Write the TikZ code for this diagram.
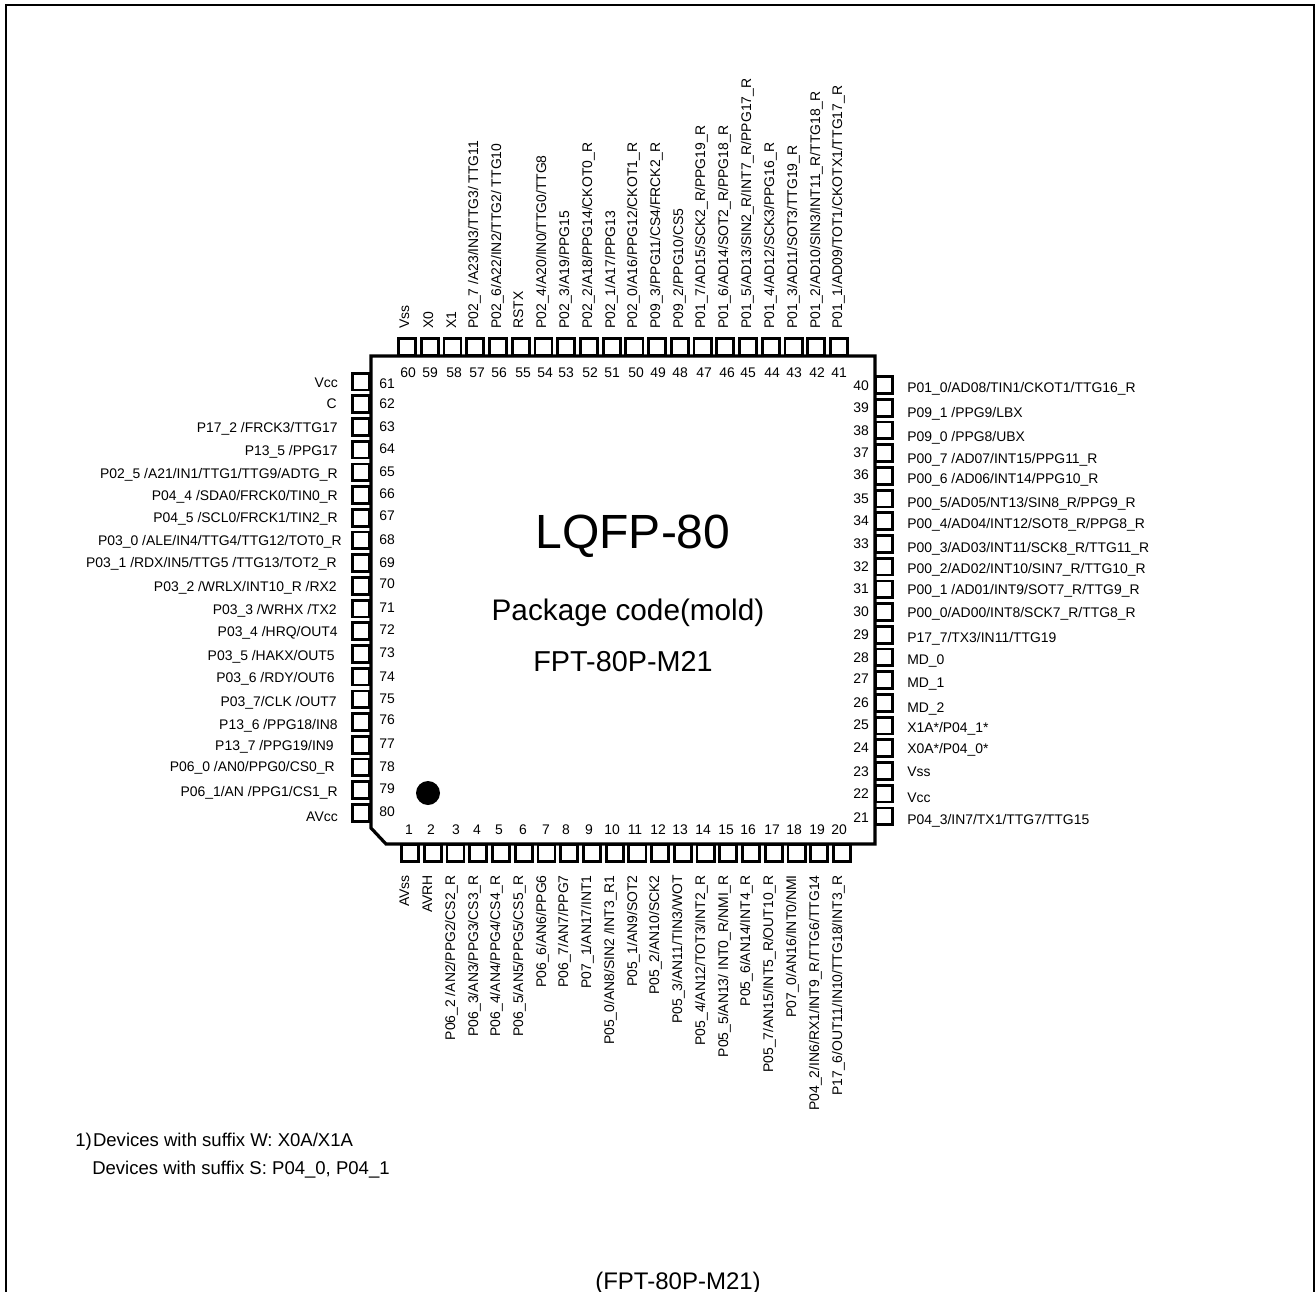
\documentclass[tikz,border=0pt]{standalone}
\usepackage{fontspec}
\setmainfont{Liberation Sans}
\tikzset{
	pinbox/.style={draw,rectangle,line width=2.1pt,minimum width=12.8pt,minimum height=12.6pt,inner sep=0,outer sep=0},
	pinnum/.style={inner sep=0,text height=7.5pt,text depth=0pt,font=\fontsize{10.45}{12}\selectfont},
	pinlab/.style={pinnum},
	toplab/.style={pinnum,rotate=90,anchor=west},
	botlab/.style={pinnum,rotate=90,anchor=east}
}
\begin{document}
\begin{tikzpicture}[x=0.75pt,y=-0.75pt]
	\useasboundingbox (0,0) rectangle (1315,1292);
	\draw[line width=1.4pt] (6,1292) -- (6,5) -- (1314,5) -- (1314,1292);
	\foreach \n/\nx/\lx/\txt in {60/408/404/{Vss},59/430/428/{X0},58/454/451/{X1},57/477/473/{P02\_7 /A23/IN3/TTG3/ TTG11},56/499/496/{P02\_6/A22/IN2/TTG2/ TTG10},55/523/518/{RSTX},54/545/541/{P02\_4/A20/IN0/TTG0/TTG8},53/566/564/{P02\_3/A19/PPG15},52/590/587/{P02\_2/A18/PPG14/CKOT0\_R},51/612/610/{P02\_1/A17/PPG13},50/636/632/{P02\_0/A16/PPG12/CKOT1\_R},49/658/655/{P09\_3/PPG11/CS4/FRCK2\_R},48/680/678/{P09\_2/PPG10/CS5},47/704/700/{P01\_7/AD15/SCK2\_R/PPG19\_R},46/727/723/{P01\_6/AD14/SOT2\_R/PPG18\_R},45/748/746/{P01\_5/AD13/SIN2\_R/INT7\_R/PPG17\_R},44/772/769/{P01\_4/AD12/SCK3/PPG16\_R},43/794/792/{P01\_3/AD11/SOT3/TTG19\_R},42/817/815/{P01\_2/AD10/SIN3/INT11\_R/TTG18\_R},41/839/837/{P01\_1/AD09/TOT1/CKOTX1/TTG17\_R}}{
		\pgfmathsetmacro\px{407+22.74*(60-\n)}
		\node[pinbox] (pin\n) at (\px,347) {};
		\node[pinnum] (num\n) at (\nx,372) {\n};
		\node[toplab] (lab\n) at (\lx,329) {\txt};
	}
	\foreach \n/\nx/\lx/\txt in {1/409/404/{AVss},2/431/427/{AVRH},3/456/450/{P06\_2 /AN2/PPG2/CS2\_R},4/477/473/{P06\_3/AN3/PPG3/CS3\_R},5/499/495/{P06\_4/AN4/PPG4/CS4\_R},6/523/518/{P06\_5/AN5/PPG5/CS5\_R},7/546/541/{P06\_6/AN6/PPG6},8/566/563/{P06\_7/AN7/PPG7},9/589/586/{P07\_1/AN17/INT1},10/612/609/{P05\_0/AN8/SIN2 /INT3\_R1},11/635/632/{P05\_1/AN9/SOT2},12/658/654/{P05\_2/AN10/SCK2},13/680/677/{P05\_3/AN11/TIN3/WOT},14/703/700/{P05\_4/AN12/TOT3/INT2\_R},15/726/723/{P05\_5/AN13/ INT0\_R/NMI\_R},16/748/745/{P05\_6/AN14/INT4\_R},17/772/768/{P05\_7/AN15/INT5\_R/OUT10\_R},18/794/791/{P07\_0/AN16/INT0/NMI},19/817/814/{P04\_2/IN6/RX1/INT9\_R/TTG6/TTG14},20/839/837/{P17\_6/OUT11/IN10/TTG18/INT3\_R}}{
		\pgfmathsetmacro\px{410+22.74*(\n-1)}
		\node[pinbox] (pin\n) at (\px,853) {};
		\node[pinnum] (num\n) at (\nx,829) {\n};
		\node[botlab] (lab\n) at (\lx,875) {\txt};
	}
	\foreach \n/\ny/\lx/\ly/\txt in {61/383/338/382/{Vcc},62/403/337/403/{C},63/426/338/427/{P17\_2 /FRCK3/TTG17},64/448/338/450/{P13\_5 /PPG17},65/471/338/473/{P02\_5 /A21/IN1/TTG1/TTG9/ADTG\_R},66/493/338/495/{P04\_4 /SDA0/FRCK0/TIN0\_R},67/515/338/517/{P04\_5 /SCL0/FRCK1/TIN2\_R},68/539/342/540/{P03\_0 /ALE/IN4/TTG4/TTG12/TOT0\_R},69/562/337/562/{P03\_1 /RDX/IN5/TTG5 /TTG13/TOT2\_R},70/583/337/586/{P03\_2 /WRLX/INT10\_R /RX2},71/607/337/609/{P03\_3 /WRHX /TX2},72/629/338/631/{P03\_4 /HRQ/OUT4},73/652/335/655/{P03\_5 /HAKX/OUT5},74/676/335/677/{P03\_6 /RDY/OUT6},75/698/337/701/{P03\_7/CLK /OUT7},76/719/338/724/{P13\_6 /PPG18/IN8},77/743/334/745/{P13\_7 /PPG19/IN9},78/766/335/766/{P06\_0 /AN0/PPG0/CS0\_R},79/788/338/791/{P06\_1/AN /PPG1/CS1\_R},80/811/338/816/{AVcc}}{
		\pgfmathsetmacro\py{381.5+22.7*(\n-61)}
		\node[pinbox] (pin\n) at (361,\py) {};
		\node[pinnum] (num\n) at (387,\ny) {\n};
		\node[pinlab,anchor=east] (lab\n) at (\lx,\ly) {\txt};
	}
	\foreach \n/\ny/\ly/\txt in {40/385/387/{P01\_0/AD08/TIN1/CKOT1/TTG16\_R},39/407/412/{P09\_1 /PPG9/LBX},38/430/436/{P09\_0 /PPG8/UBX},37/452/458/{P00\_7 /AD07/INT15/PPG11\_R},36/474/478/{P00\_6 /AD06/INT14/PPG10\_R},35/498/502/{P00\_5/AD05/NT13/SIN8\_R/PPG9\_R},34/520/523/{P00\_4/AD04/INT12/SOT8\_R/PPG8\_R},33/543/547/{P00\_3/AD03/INT11/SCK8\_R/TTG11\_R},32/566/568/{P00\_2/AD02/INT10/SIN7\_R/TTG10\_R},31/588/589/{P00\_1 /AD01/INT9/SOT7\_R/TTG9\_R},30/611/612/{P00\_0/AD00/INT8/SCK7\_R/TTG8\_R},29/634/637/{P17\_7/TX3/IN11/TTG19},28/657/659/{MD\_0},27/678/682/{MD\_1},26/702/707/{MD\_2},25/724/727/{X1A*/P04\_1*},24/747/748/{X0A*/P04\_0*},23/771/771/{Vss},22/793/797/{Vcc},21/817/819/{P04\_3/IN7/TX1/TTG7/TTG15}}{
		\pgfmathsetmacro\py{385+22.7*(40-\n)}
		\node[pinbox] (pin\n) at (884,\py) {};
		\node[pinnum] (num\n) at (861,\ny) {\n};
		\node[pinlab,anchor=west] (lab\n) at (907,\ly) {\txt};
	}
	\draw[line width=2.4pt,line join=miter] (371,828) -- (371,356) -- (875,356) -- (875,844) -- (386,844) -- cycle;
	\fill (428,793) circle (12);
	\node[font=\fontsize{36}{40}\selectfont] (title) at (633,536) {LQFP-80};
	\node[font=\fontsize{22.3}{26}\selectfont] (code) at (628,613) {Package code(mold)};
	\node[font=\fontsize{21.6}{26}\selectfont] (mold) at (623,662) {FPT-80P-M21};
	\node[anchor=west,inner sep=0,font=\fontsize{13.9}{16}\selectfont] (note1) at (75,1142) {1)\kern1pt Devices with suffix W: X0A/X1A};
	\node[anchor=west,inner sep=0,font=\fontsize{13.9}{16}\selectfont] (note2) at (92,1170) {Devices with suffix S: P04\_0, P04\_1};
	\node[inner sep=0,font=\fontsize{18}{20}\selectfont] (pack) at (678,1283) {(FPT-80P-M21)};
\end{tikzpicture}
\end{document}
